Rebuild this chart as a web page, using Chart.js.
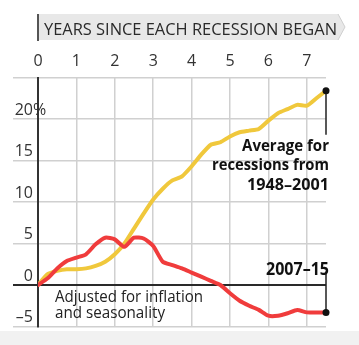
<!DOCTYPE html>
<html>
<head>
<meta charset="utf-8">
<script src="https://cdn.jsdelivr.net/npm/chart.js@4/dist/chart.umd.min.js"></script>
<style>
  html, body { margin: 0; padding: 0; background: #ffffff; }
  #wrap { width: 359px; height: 345px; position: relative; }
</style>
</head>
<body>
<div id="wrap"><canvas id="c" width="359" height="345"></canvas></div>
<script>
// ---- data ----
const years = [0, 0.25, 0.5, 0.75, 1, 1.25, 1.5, 1.75, 2, 2.25, 2.5, 2.75, 3, 3.25, 3.5, 3.75,
               4, 4.25, 4.5, 4.75, 5, 5.25, 5.5, 5.75, 6, 6.25, 6.5, 6.75, 7, 7.25, 7.5];
const recession2007 = [0, 0.8, 2.0, 2.9, 3.3, 3.7, 4.9, 5.7, 5.5, 4.6, 5.7, 5.6, 4.7, 2.8, 2.4, 2.0,
                       1.5, 1.0, 0.5, 0.0, -1.0, -1.9, -2.5, -3.0, -3.7, -3.7, -3.4, -3.0, -3.3, -3.3, -3.3];
const average1948 = [0, 1.3, 1.7, 1.9, 1.9, 2.0, 2.3, 2.8, 3.7, 5.0, 6.8, 8.6, 10.3, 11.6, 12.6, 13.1,
                     14.3, 15.7, 16.9, 17.2, 17.9, 18.4, 18.6, 18.8, 19.8, 20.7, 21.2, 21.7, 21.6, 22.5, 23.4];
const xTicks = [0, 1, 2, 3, 4, 5, 6, 7];
const xTickLabels = ['0', '1', '2', '3', '4', '5', '6', '7'];
const yTicks = [-5, 0, 5, 10, 15, 20, 25];
const yTickLabels = ['\u20135', '0', '5', '10', '15', '20', ''];
const yUnitSuffix = '%';
const titleText = 'YEARS SINCE EACH RECESSION BEGAN';
const avgLabel = ['Average for', 'recessions from', '1948\u20132001'];
const recLabel = '2007\u201315';
const noteLabel = ['Adjusted for inflation', 'and seasonality'];

const YELLOW = '#f0c83c';
const RED = '#f03c3c';
const GRID = '#d0d0d0';
const DARK = '#2a2a2a';
const FONT = "'Open Sans', 'DejaVu Sans', sans-serif";

function fitText(ctx, text, x, y, align, w) {
  const m = ctx.measureText(text).width;
  const s = Math.min(1.2, w / m);
  ctx.save();
  ctx.translate(x, y);
  ctx.scale(s, 1);
  ctx.textAlign = align;
  ctx.fillText(text, 0, 0);
  ctx.restore();
}

const decor = {
  id: 'decor',
  beforeDraw(chart) {
    const ctx = chart.ctx;
    ctx.save();
    ctx.fillStyle = '#f1f1f1';
    ctx.fillRect(0, 331, chart.width, chart.height - 331);
    ctx.restore();
  },
  afterDraw(chart) {
    const ctx = chart.ctx;
    const xs = chart.scales.x, ys = chart.scales.y;
    ctx.save();
    // title banner
    ctx.fillStyle = '#e8e8e8';
    ctx.strokeStyle = '#cfcfcf';
    ctx.lineWidth = 1;
    ctx.beginPath();
    ctx.moveTo(39, 14);
    ctx.lineTo(338, 14);
    ctx.lineTo(345, 27);
    ctx.lineTo(338, 40);
    ctx.lineTo(39, 40);
    ctx.closePath();
    ctx.fill();
    ctx.beginPath();
    ctx.moveTo(338, 14); ctx.lineTo(345, 27); ctx.lineTo(338, 40);
    ctx.stroke();
    ctx.fillStyle = '#555';
    ctx.fillRect(37, 14, 2, 27);
    ctx.fillStyle = '#2a2a2a';
    ctx.font = '17px ' + FONT;
    ctx.textBaseline = 'alphabetic';
    fitText(ctx, titleText, 44, 34.5, 'left', 293);

    // percent suffix on 20 label
    ctx.font = '16px ' + FONT;
    ctx.fillStyle = '#333';
    ctx.textBaseline = 'middle';
    ctx.textAlign = 'left';
    ctx.fillText(yUnitSuffix, 33, ys.getPixelForValue(20) - 9);

    // leader lines + dots
    const n = years.length - 1;
    const ax = xs.getPixelForValue(years[n]);
    const ay = ys.getPixelForValue(average1948[n]);
    const ry = ys.getPixelForValue(recession2007[n]);
    ctx.strokeStyle = '#222';
    ctx.lineWidth = 1.5;
    ctx.beginPath();
    ctx.moveTo(ax, ay); ctx.lineTo(ax, ay + 44);
    ctx.moveTo(ax, ry); ctx.lineTo(ax, ry - 41);
    ctx.stroke();
    ctx.fillStyle = '#111';
    ctx.beginPath(); ctx.arc(ax, ay, 3.5, 0, Math.PI * 2); ctx.fill();
    ctx.beginPath(); ctx.arc(ax, ry, 3.5, 0, Math.PI * 2); ctx.fill();

    // annotations
    ctx.textBaseline = 'alphabetic';
    ctx.fillStyle = '#111';
    ctx.font = 'bold 16px ' + FONT;
    const rx = ax + 3;
    fitText(ctx, avgLabel[0], rx, ys.getPixelForValue(16.2), 'right', 87);
    fitText(ctx, avgLabel[1], rx, ys.getPixelForValue(13.8), 'right', 117);
    fitText(ctx, avgLabel[2], rx, ys.getPixelForValue(11.5), 'right', 82);
    ctx.font = 'bold 18px ' + FONT;
    fitText(ctx, recLabel, rx, ys.getPixelForValue(1.2), 'right', 63);
    ctx.font = '16px ' + FONT;
    ctx.fillStyle = '#222';
    const lx = xs.getPixelForValue(0) + 17;
    fitText(ctx, noteLabel[0], lx, ys.getPixelForValue(-2.0), 'left', 148);
    fitText(ctx, noteLabel[1], lx, ys.getPixelForValue(-4.0), 'left', 110);
    ctx.restore();
  }
};

new Chart(document.getElementById('c'), {
  type: 'line',
  data: {
    datasets: [
      {
        label: '2007-15',
        data: years.map((x, i) => ({ x, y: recession2007[i] })),
        borderColor: RED,
        borderWidth: 4,
        pointRadius: 0,
        tension: 0.2,
        borderCapStyle: 'round',
        borderJoinStyle: 'round'
      },
      {
        label: 'Average for recessions from 1948-2001',
        data: years.map((x, i) => ({ x, y: average1948[i] })),
        borderColor: YELLOW,
        borderWidth: 4,
        pointRadius: 0,
        tension: 0.2,
        borderCapStyle: 'round',
        borderJoinStyle: 'round'
      }
    ]
  },
  options: {
    responsive: false,
    animation: false,
    events: [],
    layout: { padding: { left: 0, right: 33, top: 47.5, bottom: 18.5 } },
    plugins: { legend: { display: false }, tooltip: { enabled: false }, title: { display: false } },
    scales: {
      x: {
        type: 'linear',
        position: 'top',
        min: 0,
        max: 7.5,
        afterBuildTicks: s => { s.ticks = xTicks.map(v => ({ value: v })); },
        afterFit: s => { s.height = 30; },
        grid: { color: GRID, lineWidth: 1.5, drawTicks: false },
        border: { display: false },
        ticks: {
          padding: 6,
          color: '#333',
          font: { family: FONT, size: 16 },
          callback: (v) => { const i = xTicks.indexOf(v); return i >= 0 ? xTickLabels[i] : ''; }
        }
      },
      y: {
        type: 'linear',
        min: -5,
        max: 25,
        afterBuildTicks: s => { s.ticks = yTicks.map(v => ({ value: v })); },
        afterFit: s => { s.width = 38; },
        grid: {
          color: c => (c.tick && c.tick.value === 0) ? DARK : GRID,
          lineWidth: c => (c.tick && c.tick.value === 0) ? 2 : 1.5,
          tickLength: 25,
          drawTicks: true
        },
        border: { color: '#333', width: 2 },
        ticks: {
          padding: -20,
          labelOffset: -9,
          color: '#333',
          font: { family: FONT, size: 16 },
          callback: (v) => { const i = yTicks.indexOf(v); return i >= 0 ? yTickLabels[i] : ''; }
        }
      }
    }
  },
  plugins: [decor]
});
</script>
</body>
</html>
